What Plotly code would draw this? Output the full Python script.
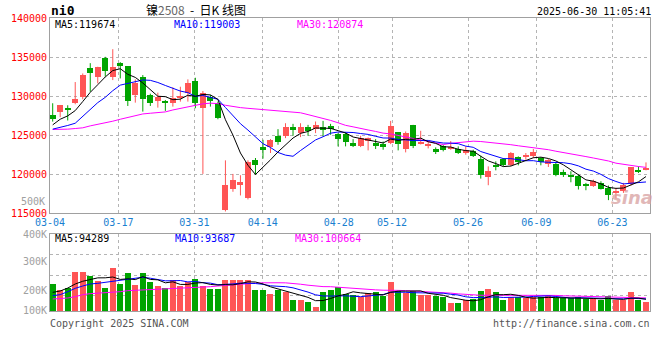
import plotly.graph_objects as go

# ---------------- data ----------------
dates = ["03-04","03-05","03-06","03-07","03-10","03-11","03-12","03-13","03-14","03-17",
         "03-18","03-19","03-20","03-21","03-24","03-25","03-26","03-27","03-28","03-31",
         "04-01","04-02","04-03","04-07","04-08","04-09","04-10","04-11","04-14","04-15",
         "04-16","04-17","04-18","04-21","04-22","04-23","04-24","04-25","04-28","04-29",
         "04-30","05-06","05-07","05-08","05-09","05-12","05-13","05-14","05-15","05-16",
         "05-19","05-20","05-21","05-22","05-23","05-26","05-27","05-28","05-29","05-30",
         "06-03","06-04","06-05","06-06","06-09","06-10","06-11","06-12","06-13","06-16",
         "06-17","06-18","06-19","06-20","06-23","06-24","06-25","06-26","06-27","06-30"]

opens = [127580,128000,128470,129110,129830,133570,132470,134890,132470,134250,
         133830,130170,132380,130130,129410,129410,129150,129700,130430,131910,
         128510,129830,129150,115370,118020,118700,116910,121840,123410,123410,
         124900,124900,126090,125320,126000,125750,126000,126170,125110,125150,
         123960,123540,124170,123960,123830,123960,125370,123200,126220,123830,
         123540,123240,123540,123240,123240,122690,122900,121920,119580,121200,
         121920,121110,122180,122180,122260,122050,121320,121280,120220,119790,
         119790,118770,118430,118860,118220,117670,117790,118730,120560,120640]
highs = [129070,128850,128810,131790,132890,134210,133750,135020,136000,134340,
         133830,132130,132680,130300,130430,129490,131110,131190,132130,132340,
         130640,130130,129280,121750,120010,119840,121750,122050,124390,124480,
         125750,126510,126430,126510,126300,126730,126810,126430,125240,125320,
         124470,124900,124680,124470,124170,126810,125370,125450,126300,125540,
         124170,123410,123710,124220,123540,123540,123110,122350,120980,121620,
         122050,122810,122260,122690,123200,122180,121920,121490,120560,120350,
         119920,118860,119280,119070,118520,118220,118860,120860,120980,121490]
lows = [126720,127280,126860,128940,129580,130550,131620,132470,132040,132250,
        128720,129150,128000,128720,128510,128090,128640,129280,129280,128430,
        120010,128640,127020,115200,117720,117250,116740,119930,121970,122690,
        123750,124600,124900,124730,124900,125240,124820,125030,123540,123540,
        123450,123450,123030,123200,123110,123830,123030,122770,123320,123790,
        123280,122560,122900,123110,122560,122470,122180,119410,118560,120470,
        120980,120980,121110,121840,122050,121110,120900,119710,119620,118940,
        118010,117920,118350,118010,116650,116860,117580,118520,120130,120470]
closes = [127070,128810,128260,129620,132680,132980,133700,133230,133700,133870,
          129410,131700,129660,129150,129920,129150,129750,130000,131700,129150,
          130430,129410,127150,118650,119290,118950,121580,121200,123030,124310,
          124050,126000,125670,126000,125540,126300,125670,125750,124520,124050,
          123710,124680,124560,123540,123410,126170,123830,125320,123540,124130,
          123880,122770,123110,123410,122690,123030,122350,119880,120430,120980,
          121110,122690,121490,122350,122770,121490,121840,119920,119840,119620,
          118430,118430,119070,118130,117370,117790,118650,120860,120300,120770]
volumes = [169800,140500,148800,228200,228200,208800,184200,150200,247800,169800,
           223200,164900,223200,179200,160000,150200,189200,160000,179200,194200,
           160000,145200,145200,189200,189200,189200,189200,140500,140500,121000,
           137200,127200,88200,88200,82200,56200,130700,137200,153500,121000,
           116100,104700,124200,127500,111200,176200,135600,124200,132200,112800,
           116100,108000,104700,75500,75500,88500,95000,132200,145200,127500,
           88500,104700,104700,99800,104700,104700,108000,99800,98200,99800,
           104700,95000,98200,88500,111200,88500,88500,127500,88500,82000]

ma5_head = [126300,127020,127450,128130]
ma10_head = [125750,125960,126220,126510,127360,128210,129150,129830,130680]
ma30_head = [125710,125710,125750,125830,125920,126170,126340,126510,126770,127020,
             127280,127530,127700,127790,127870,127960,128210,128400,128600,128800,
             129000,129080,129020,128810,128640,128510,128420,128340,128280]
vma5_head = [129000,135600,150000,169800]
vma10_head = [112800,117700,132300,148600,160000,169800,173000,177900,181100]
vma30_head = [96600,98200,101500,108000,117700,122600,124200,125900,129100,132300,
              137200,138900,140500,140500,142100,143800,145400,147000,148600,151900,
              153500,156700,160000,163300,166500,169800,172000,174000,175500]

tick_dates = ["03-04","03-17","03-31","04-14","04-28","05-12","05-26","06-09","06-23"]
price_ticks = [115000,120000,125000,130000,135000,140000]
vol_tick_text = ["100K","200K","300K","400K"]

ma_labels = ["MA5:119674", "MA10:119003", "MA30:120874"]
vma_labels = ["MA5:94289", "MA10:93687", "MA30:100664"]

# ---------------- helpers ----------------
def moving_average(vals, n, head):
    out = list(head)
    for i in range(len(head), len(vals)):
        out.append(sum(vals[i - n + 1:i + 1]) / n)
    return out

RED = "#ff5555"
GREEN = "#00a400"
MONO = "DejaVu Sans Mono"
GRID = "#b4b4b4"

idx = list(range(len(dates)))
up = [c >= o for o, c in zip(opens, closes)]
colors = [RED if u else GREEN for u in up]

MIN_BODY = 160
body_base = [min(o, c) for o, c in zip(opens, closes)]
body_h = [max(abs(c - o), MIN_BODY) for o, c in zip(opens, closes)]

ma5 = moving_average(closes, 5, ma5_head)
ma10 = moving_average(closes, 10, ma10_head)
ma30 = moving_average(closes, 30, ma30_head)
vma5 = moving_average(volumes, 5, vma5_head)
vma10 = moving_average(volumes, 10, vma10_head)
vma30 = moving_average(volumes, 30, vma30_head)

fig = go.Figure()

# candle bodies
fig.add_trace(go.Bar(x=idx, y=body_h, base=body_base, width=0.8,
                     marker=dict(color=colors, line=dict(width=0)),
                     xaxis="x", yaxis="y", hoverinfo="skip"))

# wicks
for col, flag in ((RED, True), (GREEN, False)):
    wx, wy = [], []
    for i in idx:
        if up[i] == flag:
            wx += [i, i, None]
            wy += [lows[i], highs[i], None]
    fig.add_trace(go.Scatter(x=wx, y=wy, mode="lines", line=dict(color=col, width=1),
                             xaxis="x", yaxis="y", hoverinfo="skip"))

# price MAs
for vals, col in ((ma30, "#ff00ff"), (ma10, "#0000ff"), (ma5, "#000000")):
    fig.add_trace(go.Scatter(x=idx, y=vals, mode="lines", line=dict(color=col, width=1),
                             xaxis="x", yaxis="y", hoverinfo="skip"))

# volume bars
fig.add_trace(go.Bar(x=idx, y=volumes, width=0.8,
                     marker=dict(color=colors, line=dict(width=0)),
                     xaxis="x2", yaxis="y2", hoverinfo="skip"))
for vals, col in ((vma30, "#ff00ff"), (vma10, "#0000ff"), (vma5, "#000000")):
    fig.add_trace(go.Scatter(x=idx, y=vals, mode="lines", line=dict(color=col, width=1),
                             xaxis="x2", yaxis="y2", hoverinfo="skip"))

# ---------------- layout ----------------
W, H = 660, 360
ML, MR, MT, MB = 50, 10, 18, 49
PW, PH = W - ML - MR, H - MT - MB
X0_PX, STEP_PX = 52.7, 7.51        # candle centre geometry
GRID_STEP = 7.6                     # sina date grid spacing


def px2x(px):
    return (px - ML) / PW


def py2y(py):
    return (H - MB - py) / PH


x_range = [(ML - X0_PX) / STEP_PX, (ML + PW - X0_PX) / STEP_PX]
grid_vals = [(ML + GRID_STEP * dates.index(d) - X0_PX) / STEP_PX for d in tick_dates]

# volume axis geometry (sina labels sit off the grid lines)
V_ZERO_PX, V_PER_PX = 318.8, 4878.0
def vpx(py):
    return (V_ZERO_PX - py) * V_PER_PX

vol_range = [vpx(311), vpx(234.3)]
vol_tickvals = [vpx(310), vpx(290), vpx(261), vpx(234.3)]
vol_gridvals = [vpx(295.8), vpx(275.3), vpx(254.8)]

axis_common = dict(showline=True, mirror=True, linecolor="#a0a0a0", linewidth=1,
                   zeroline=False, ticks="", automargin=False)

fig.update_layout(
    width=W, height=H, margin=dict(l=ML, r=MR, t=MT, b=MB),
    paper_bgcolor="white", plot_bgcolor="white", showlegend=False,
    bargap=0, barmode="overlay",
    xaxis=dict(domain=[0, 1], anchor="y", range=x_range, tickmode="array",
               tickvals=grid_vals, ticktext=tick_dates, showgrid=True, gridcolor=GRID,
               griddash="dot", gridwidth=1,
               tickfont=dict(family=MONO, size=10, color="#1a7fd0"), **axis_common),
    yaxis=dict(domain=[py2y(213), py2y(18)], anchor="x", range=[115000, 140000],
               tickmode="array", tickvals=price_ticks, ticktext=[str(v) for v in price_ticks],
               showgrid=True, gridcolor=GRID, griddash="dot", gridwidth=1,
               tickfont=dict(family=MONO, size=10, color="#ff0000"), **axis_common),
    xaxis2=dict(domain=[0, 1], anchor="y2", matches="x", range=x_range, tickmode="array",
                tickvals=grid_vals, showticklabels=False, showgrid=True, gridcolor=GRID,
                griddash="dot", gridwidth=1, **axis_common),
    yaxis2=dict(domain=[0, py2y(234.3)], anchor="x2", range=vol_range, tickmode="array",
                tickvals=vol_tickvals, ticktext=vol_tick_text, showgrid=False,
                minor=dict(tickmode="array", tickvals=vol_gridvals, showgrid=True,
                           gridcolor=GRID, griddash="dot", gridwidth=1, ticks=""),
                tickfont=dict(family=MONO, size=10, color="#a0a0a0"), **axis_common),
)


def ann(text, px, py, xanchor="left", size=10, color="#000", family=MONO, **kw):
    fig.add_annotation(text=text, x=px2x(px), y=py2y(py), xref="paper", yref="paper",
                       xanchor=xanchor, yanchor="middle", showarrow=False,
                       font=dict(family=family, size=size, color=color, **kw),
                       borderpad=0)


ann("<b>ni0</b>", 50, 10.5, size=13)
ann('镍<span style="color:#666666">2508</span>  -  日K 线图', 196, 9.5, xanchor="center",
    size=12, family="Noto Sans CJK SC")
ann("2025-06-30 11:05:41", 652, 12, xanchor="right")

ma_cols = ["#000000", "#0000ff", "#ff00ff"]
for t, c, px in zip(ma_labels, ma_cols, (54, 173, 296)):
    ann(t, px, 24.5, color=c)
for t, c, px in zip(vma_labels, ma_cols, (54, 174, 294)):
    ann(t, px, 238.5, color=c)

ann("500K", 46, 201, xanchor="right", color="#a0a0a0")
ann("sina", 632, 197, xanchor="center", size=18, color="rgba(215,160,160,0.75)",
    family="DejaVu Sans", style="italic", weight="bold")
ann("Copyright 2025 SINA.COM", 49, 323, color="#555555")
ann("http://finance.sina.com.cn", 651, 323, xanchor="right", color="#555555")

fig.write_html("out.html", config={"displayModeBar": False},
               post_script="document.body.style.margin='0';document.body.style.overflow='hidden';")
